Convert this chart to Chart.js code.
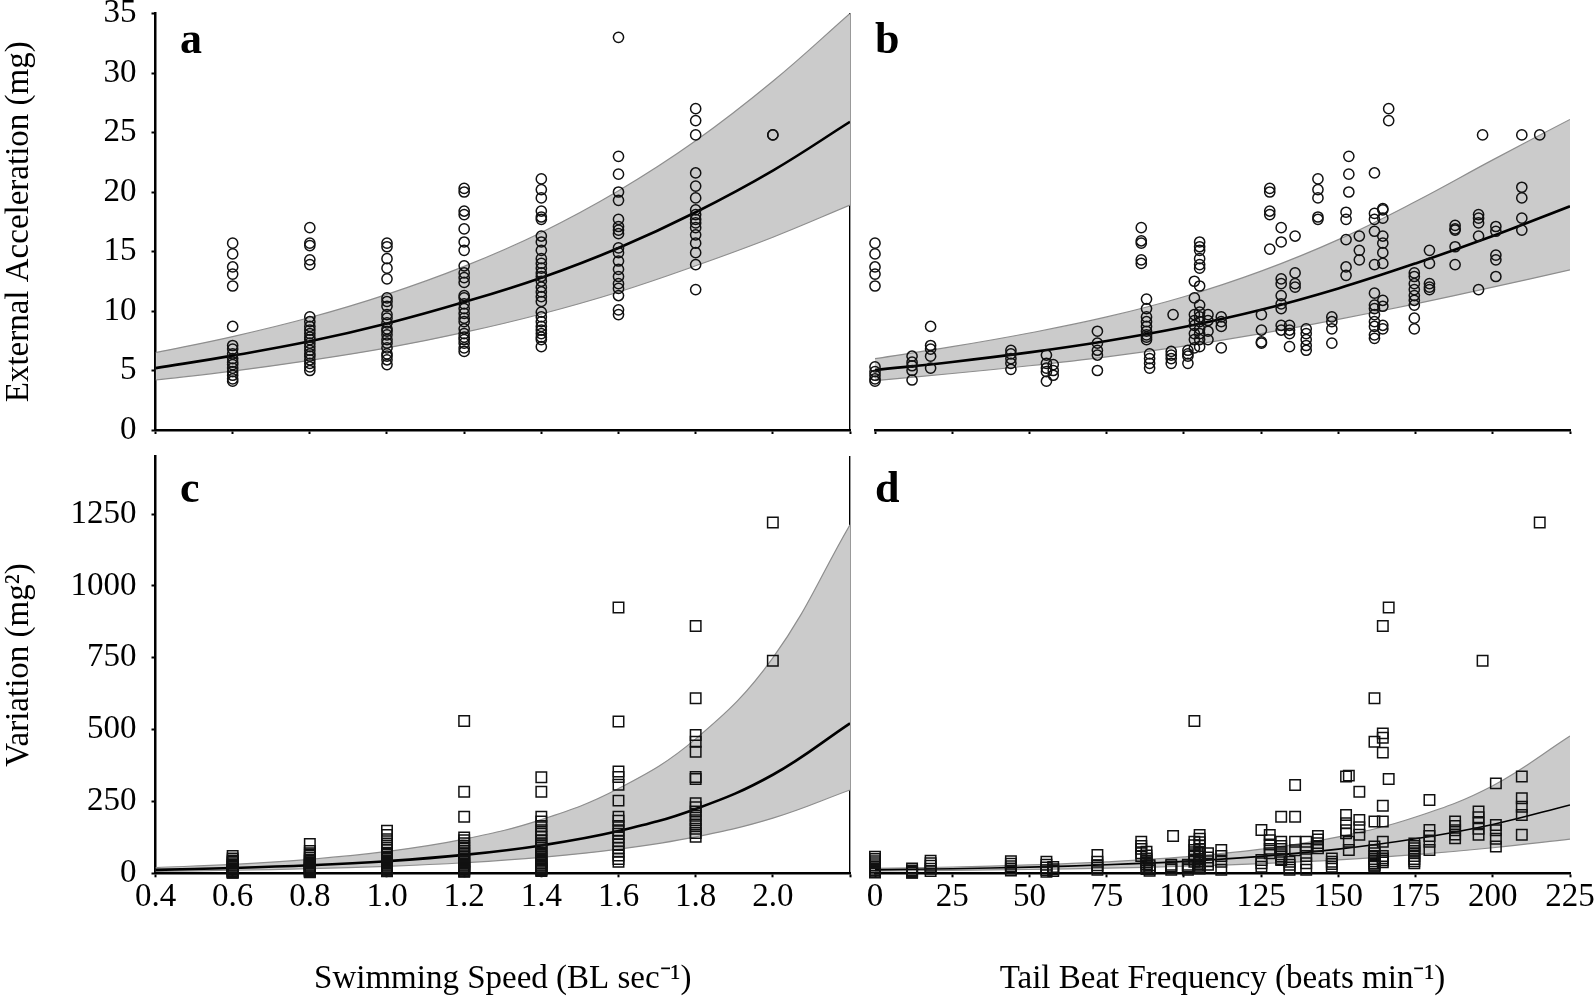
<!DOCTYPE html>
<html>
<head>
<meta charset="utf-8">
<script src="https://cdn.jsdelivr.net/npm/chart.js@4.4.1/dist/chart.umd.min.js"></script>
<style>
html, body { margin: 0; padding: 0; background: #fff; overflow: hidden; width: 1594px; height: 999px; }
canvas { position: absolute; }
</style>
</head>
<body>
<canvas id="pa" width="860" height="445" style="left:0px;top:0px;width:860px;height:445px"></canvas>
<canvas id="pb" width="738" height="445" style="left:862px;top:0px;width:738px;height:445px"></canvas>
<canvas id="pc" width="860" height="554" style="left:0px;top:445px;width:860px;height:554px"></canvas>
<canvas id="pd" width="738" height="554" style="left:862px;top:445px;width:738px;height:554px"></canvas>
<script>
// ---------- tick values / labels ----------
const accelTicks = [0, 5, 10, 15, 20, 25, 30, 35];
const varTicks = [0, 250, 500, 750, 1000, 1250];
const speedTicks = [0.4, 0.6, 0.8, 1.0, 1.2, 1.4, 1.6, 1.8, 2.0, 2.2];
const speedTickLabels = ['0.4', '0.6', '0.8', '1.0', '1.2', '1.4', '1.6', '1.8', '2.0', ''];
const freqTicks = [0, 25, 50, 75, 100, 125, 150, 175, 200, 225];
const freqTickLabels = ['0', '25', '50', '75', '100', '125', '150', '175', '200', '225'];

// ---------- observations: swimming speed groups ----------
const speedLevels = [0.6, 0.8, 1.0, 1.2, 1.4, 1.6, 1.8, 2.0];
const accelBySpeed = [
  [15.7,14.8,13.7,13.1,12.1,8.7,7.1,6.8,6.4,6.0,5.7,5.5,5.2,4.9,4.6,4.3,4.1],
  [17.0,15.7,15.5,14.3,13.9,9.5,9.1,8.7,8.4,8.1,7.8,7.6,7.3,7.0,6.7,6.4,6.2,5.9,5.6,5.3,5.0],
  [15.7,15.4,14.4,13.6,12.7,11.1,10.8,10.4,9.7,9.4,9.0,8.5,8.3,8.0,7.6,7.3,6.9,6.4,6.2,5.9,5.5],
  [20.3,20.0,18.4,18.1,16.9,15.8,15.1,13.8,13.2,12.8,12.4,11.3,11.1,10.6,10.2,9.8,9.4,9.1,8.5,8.1,7.8,7.6,7.3,6.9,6.6],
  [21.1,20.2,19.5,18.4,17.9,17.7,16.3,15.8,15.1,14.4,14.0,13.6,13.2,12.9,12.5,12.0,11.6,11.2,10.8,9.9,9.5,9.1,8.7,8.4,8.1,7.8,7.6,7.0],
  [33.0,23.0,21.5,20.0,19.3,17.7,17.1,16.8,16.5,15.3,14.9,14.2,13.5,12.9,12.3,11.9,11.3,10.1,9.7],
  [27.0,26.0,24.8,21.6,20.5,19.5,18.5,18.1,17.7,17.4,17.0,16.4,15.7,14.9,13.9,11.8],
  [24.8,24.8]
];
const varBySpeed = [
  [60,52,45,40,35,30,26,22,18,15,12,9,7,5,4,3,2],
  [102,78,70,62,55,48,43,38,34,30,26,23,20,17,14,12,10,8,6,5,4],
  [148,133,119,104,90,80,72,64,57,50,44,39,34,30,26,22,18,15,12,9,7],
  [530,284,197,125,115,105,95,86,78,70,63,56,50,44,39,34,30,26,22,18,15,12,9,7,5],
  [334,284,197,180,165,150,138,126,115,105,96,88,80,72,65,58,52,46,40,35,30,26,22,18,15,12,10,8],
  [925,528,354,335,308,253,197,183,165,150,138,125,112,100,88,75,62,50,40],
  [861,609,481,458,423,335,328,244,230,215,200,185,170,155,140,127],
  [1221,740]
];

// ---------- observations: tail beat frequency groups ----------
const freqLevels = [0,12,18,44,55.5,57.7,72,86.2,87.9,88.9,95.9,96.5,101.3,103.4,105.1,107.8,112.1,125.1,127.8,131.5,134.2,136,139.6,143.4,147.9,152.5,153.4,156.8,161.7,164.4,166.3,174.6,179.5,187.8,195.4,196.7,201,209.4,215.2];
const accelByFreq = [
  [15.7,14.8,13.7,13.1,12.1,5.3,4.9,4.6,4.3,4.1],
  [6.2,5.7,5.4,5.0,4.2],
  [8.7,7.1,6.8,6.2,5.2],
  [6.7,6.4,6.0,5.6,5.1],
  [6.3,5.6,5.2,4.9,4.1],
  [5.5,5.0,4.6],
  [8.3,7.3,6.7,6.3,5.0],
  [17.0,15.9,15.7,14.3,14.0],
  [11.0,10.2,9.5,9.1,8.7,8.3,8.0,7.8,7.6],
  [6.4,6.0,5.6,5.2],
  [6.6,6.3,6.0,5.6],
  [9.7],
  [6.7,6.4,6.2,5.6],
  [12.5,11.1,9.7,9.2,8.8,8.1,7.6,6.9],
  [15.8,15.4,15.1,14.4,13.9,13.6,12.1,10.5,9.9,9.5,9.1,8.5,8.1,7.6,7.0],
  [9.7,9.2,8.3,7.6],
  [9.5,9.1,8.7,6.9],
  [9.7,8.4,7.4,7.3],
  [20.3,20.0,18.4,18.1,15.2],
  [17.0,15.8,12.7,12.3,11.3,10.6,10.2,8.8,8.4],
  [8.8,8.4,8.1,7.0],
  [16.3,13.2,12.3,12.0],
  [8.5,8.1,7.6,7.1,6.7],
  [21.1,20.2,19.5,17.9,17.7],
  [9.5,9.1,8.5,7.3],
  [18.3,17.7,16.0,13.7,13.0],
  [23.0,21.5,20.0],
  [16.3,15.1,14.3],
  [21.6,18.2,17.7,16.7,13.9,11.5,10.5,10.2,9.7,9.1,8.7,8.0,7.7],
  [18.6,18.5,17.8,16.3,15.7,14.9,14.0,10.9,10.4,8.8,8.5],
  [27.0,26.0],
  [13.2,12.9,12.3,11.8,11.3,10.9,10.5,9.4,8.5],
  [15.1,14.0,12.3,12.0,11.8],
  [17.2,16.9,16.8,15.4,13.9],
  [18.1,17.8,17.4,16.3,11.8],
  [24.8],
  [17.1,16.7,14.7,14.3,12.9],
  [24.8,20.4,19.5,17.8,16.8],
  [24.8]
];
const varByFreq = [
  [58,50,42,35,28,22,16,10,5,3],
  [17,10,6,3,2],
  [44,35,26,16,8],
  [42,33,25,17,10],
  [40,30,20,11,5],
  [22,14,8],
  [64,40,28,20,12],
  [110,95,85,70,60],
  [75,62,52,45,38,32,26,20,15],
  [28,20,14,9],
  [30,24,18,12],
  [130],
  [30,24,18,12],
  [530,110,98,81,66,58,48,40],
  [133,120,108,96,85,75,66,58,50,43,37,31,26,21,17],
  [70,55,42,30],
  [81,60,40,12],
  [151,46,35,23],
  [133,115,100,85,70],
  [197,110,95,85,75,66,58,50,46],
  [40,30,20,12],
  [307,197,110,80],
  [110,85,60,35,12],
  [130,118,105,95,87],
  [52,40,32,23],
  [337,203,174,150,139],
  [340,110,81],
  [284,186,160,134],
  [609,458,180,93,80,70,60,50,42,35,30,26,23],
  [861,487,472,420,235,180,110,60,52,45,38],
  [925,328],
  [104,95,87,78,70,60,50,42,35],
  [255,151,130,110,81],
  [180,165,150,135,122],
  [215,195,175,155,134],
  [740],
  [313,168,150,120,93],
  [337,261,232,203,134],
  [1221]
];

// ---------- fitted curves and confidence bands ----------
const speedGrid = [0.4, 0.6, 0.8, 1.0, 1.2, 1.4, 1.6, 1.8, 2.0, 2.2];
const accelSpeedFit   = [5.2, 6.25, 7.45, 8.95, 10.75, 12.8, 15.3, 18.3, 21.8, 25.9];
const accelSpeedUpper = [6.5, 7.85, 9.45, 11.4, 13.75, 16.6, 20.1, 24.3, 29.3, 35.0];
const accelSpeedLower = [4.2, 4.95, 5.85, 6.9, 8.2, 9.75, 11.6, 13.8, 16.2, 18.9];
const varSpeedFit   = [12, 18.3, 27.8, 42.2, 64, 97, 147, 224, 343, 522];
const varSpeedUpper = [20, 31, 48.5, 76, 119, 187, 295, 468, 750, 1213];
const varSpeedLower = [7, 10.6, 16, 24.3, 36.8, 55.5, 84, 127, 192, 290];

const freqGrid = [0, 25, 50, 75, 100, 125, 150, 175, 200, 225];
const accelFreqFit   = [5.04, 5.72, 6.52, 7.48, 8.65, 10.1, 11.9, 14.0, 16.3, 18.8];
const accelFreqUpper = [6.0, 7.0, 8.15, 9.5, 11.2, 13.35, 16.0, 19.2, 22.7, 26.1];
const accelFreqLower = [4.15, 4.75, 5.4, 6.15, 7.05, 8.1, 9.3, 10.6, 12.0, 13.45];
const varFreqFit   = [12, 16, 21.5, 29.5, 41.5, 59, 84, 120, 170, 238];
const varFreqUpper = [17, 22, 29, 40, 57, 84, 127, 196, 305, 478];
const varFreqLower = [8, 10.2, 13.3, 17.8, 24.5, 34, 47, 65, 89, 119];

// ---------- helpers ----------
Chart.defaults.font.family = '"Liberation Serif", "Times New Roman", Times, serif';
Chart.defaults.color = '#000';

function curve(xs, ys) { return xs.map((x, i) => ({ x: x, y: ys[i] })); }
function flatten(xs, groups) {
  const out = [];
  xs.forEach((x, i) => groups[i].forEach(y => out.push({ x: x, y: y })));
  return out;
}
function labelFor(values, labels) {
  return v => {
    let best = -1, d = Infinity;
    values.forEach((t, i) => { const e = Math.abs(t - v); if (e < d) { d = e; best = i; } });
    return best >= 0 && d < 1e-6 * (1 + Math.abs(v)) ? labels[best] : '';
  };
}

const letterPlugin = {
  id: 'panelLetter',
  afterDraw(chart, args, opts) {
    const c = chart.ctx;
    c.save();
    c.font = 'bold 44px "Liberation Serif", "Times New Roman", serif';
    c.fillStyle = '#000';
    c.textBaseline = 'alphabetic';
    c.textAlign = 'left';
    c.fillText(opts.text, opts.x, opts.y);
    c.restore();
  }
};

function buildPanel(id, o) {
  const lineBase = { pointRadius: 0, tension: 0.4, cubicInterpolationMode: 'default' };
  const datasets = [
    Object.assign({ data: curve(o.grid, o.upper), borderColor: '#8e8e8e', borderWidth: 1.2, backgroundColor: '#cbcbcb',
      fill: '+1', order: 3 }, lineBase),
    Object.assign({ data: curve(o.grid, o.lower), borderColor: '#8e8e8e', borderWidth: 1.2, fill: false, order: 2 }, lineBase),
    Object.assign({ data: curve(o.grid, o.fit), borderColor: '#000', borderWidth: o.fitWidth, fill: false, order: 1 }, lineBase),
    { data: o.points, showLine: false, pointStyle: o.marker, pointRadius: o.r, pointBorderWidth: 1.5,
      pointBorderColor: '#111', pointBackgroundColor: 'rgba(0,0,0,0)', clip: false, order: 0 }
  ];
  const xVals = o.xTicks, yVals = o.yTicks;
  const scales = {
    x: {
      type: 'linear', position: 'bottom', min: o.xMin, max: o.xMax,
      afterBuildTicks: s => { s.ticks = xVals.map(v => ({ value: v })); },
      ticks: { display: o.xLabels, autoSkip: false, maxRotation: 0, minRotation: 0,
        padding: 0, color: '#000', font: { size: 33 }, callback: labelFor(xVals, o.xLabelText) },
      grid: { display: true, drawOnChartArea: false, drawTicks: true, tickLength: 4, tickWidth: 2, tickColor: '#000' },
      border: { display: true, color: '#000', width: 2.5 },
      title: { display: !!o.xTitle, text: o.xTitle || '', color: '#000', font: { size: 33 }, padding: { top: 0, bottom: 0 } },
      afterFit: s => { s.height = o.xH; s.paddingLeft = 0; s.paddingRight = 0; }
    },
    y: {
      type: 'linear', position: 'left', display: o.showY, min: 0, max: o.yMax,
      afterBuildTicks: s => { s.ticks = yVals.map(v => ({ value: v })); },
      ticks: { autoSkip: false, padding: 15, color: '#000', font: { size: 33 },
        callback: labelFor(yVals, yVals.map(String)) },
      grid: { display: true, drawOnChartArea: false, drawTicks: true, tickLength: 4, tickWidth: 2, tickColor: '#000' },
      border: { display: true, color: '#000', width: 2.5 },
      title: { display: !!o.yTitle, text: o.yTitle || '', color: '#000', font: { size: 33 }, padding: { top: 0, bottom: 0 } },
      afterFit: s => { if (o.showY) { s.width = 155.5; } s.paddingTop = 0; s.paddingBottom = 0; }
    }
  };
  if (o.dottedRight) {
    scales.yR = {
      type: 'linear', position: 'right', display: true, min: 0, max: 1,
      ticks: { display: false }, grid: { display: false },
      border: { display: true, color: '#000', width: 1.4, dash: [1.6, 2.2] },
      afterFit: s => { s.width = 0; s.paddingTop = 0; s.paddingBottom = 0; }
    };
  }
  return new Chart(document.getElementById(id), {
    type: 'line',
    data: { datasets: datasets },
    options: {
      responsive: false, animation: false, devicePixelRatio: 1,
      layout: { padding: o.pad },
      plugins: { legend: { display: false }, tooltip: { enabled: false }, panelLetter: o.letter },
      scales: scales
    },
    plugins: [letterPlugin]
  });
}

buildPanel('pa', {
  grid: speedGrid, fit: accelSpeedFit, upper: accelSpeedUpper, lower: accelSpeedLower, fitWidth: 2.6,
  points: flatten(speedLevels, accelBySpeed), marker: 'circle', r: 5.1,
  xMin: 0.4, xMax: 2.2, xTicks: speedTicks, xLabelText: speedTickLabels, xLabels: false, xH: 15,
  showY: true, yMax: 35, yTicks: accelTicks, yTitle: 'External Acceleration (mg)',
  dottedRight: true, pad: { left: 0, top: 13.5, right: 10, bottom: 0 },
  letter: { text: 'a', x: 180, y: 52.5 }
});
buildPanel('pb', {
  grid: freqGrid, fit: accelFreqFit, upper: accelFreqUpper, lower: accelFreqLower, fitWidth: 2.6,
  points: flatten(freqLevels, accelByFreq), marker: 'circle', r: 5.1,
  xMin: 0, xMax: 225, xTicks: freqTicks, xLabelText: freqTickLabels, xLabels: false, xH: 15,
  showY: false, yMax: 35, yTicks: accelTicks,
  dottedRight: false, pad: { left: 13, top: 13.5, right: 30, bottom: 0 },
  letter: { text: 'b', x: 13, y: 52.5 }
});
buildPanel('pc', {
  grid: speedGrid, fit: varSpeedFit, upper: varSpeedUpper, lower: varSpeedLower, fitWidth: 2.6,
  points: flatten(speedLevels, varBySpeed), marker: 'rect', r: 7.4,
  xMin: 0.4, xMax: 2.2, xTicks: speedTicks, xLabelText: speedTickLabels, xLabels: true, xH: 125.7,
  xTitle: 'Swimming Speed (BL sec\u207B\u00B9)',
  showY: true, yMax: 1450, yTicks: varTicks, yTitle: 'Variation (mg\u00B2)',
  dottedRight: true, pad: { left: 0, top: 11.7, right: 10, bottom: 0 },
  letter: { text: 'c', x: 180, y: 57 }
});
buildPanel('pd', {
  grid: freqGrid, fit: varFreqFit, upper: varFreqUpper, lower: varFreqLower, fitWidth: 1.6,
  points: flatten(freqLevels, varByFreq), marker: 'rect', r: 7.4,
  xMin: 0, xMax: 225, xTicks: freqTicks, xLabelText: freqTickLabels, xLabels: true, xH: 125.7,
  xTitle: 'Tail Beat Frequency (beats min\u207B\u00B9)',
  showY: false, yMax: 1450, yTicks: varTicks,
  dottedRight: false, pad: { left: 13, top: 11.7, right: 30, bottom: 0 },
  letter: { text: 'd', x: 13, y: 57 }
});
</script>
</body>
</html>
